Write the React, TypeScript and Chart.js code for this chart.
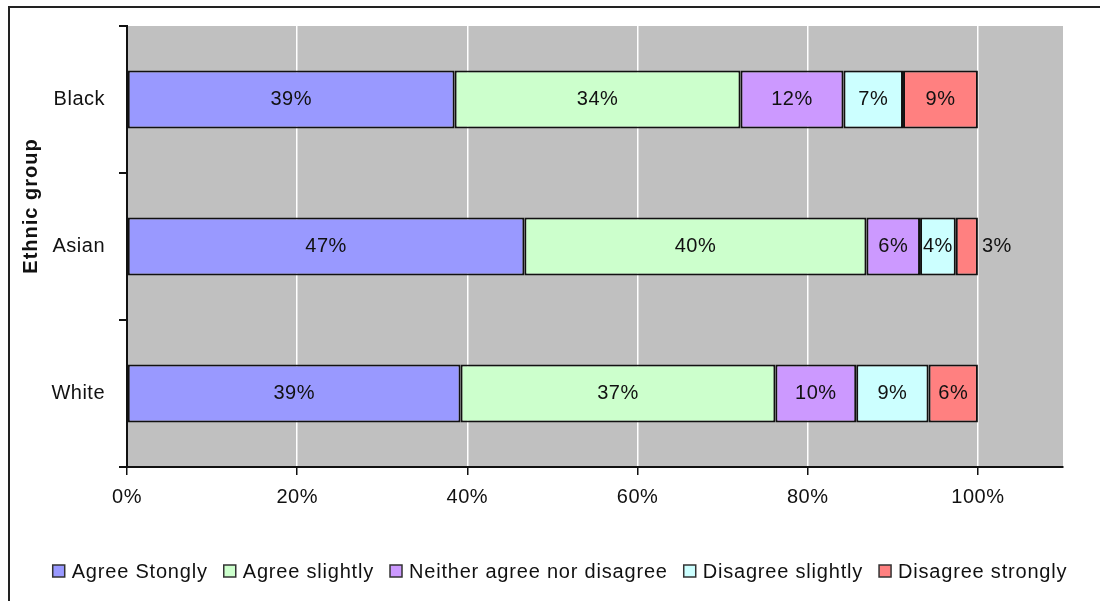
import { useEffect, useRef } from 'react';
import { Chart, registerables } from 'chart.js';

Chart.register(...registerables);

// Survey answers by ethnic group, in percent of respondents
const groups = ['Black', 'Asian', 'White'];
const seriesNames = [
  'Agree Stongly',
  'Agree slightly',
  'Neither agree nor disagree',
  'Disagree slightly',
  'Disagree strongly',
];
const agreeStrongly = [38.5, 46.7, 39.2];
const agreeSlightly = [33.6, 40.2, 37.0];
const neitherAgreeNorDisagree = [12.1, 6.3, 9.5];
const disagreeSlightly = [7.0, 4.2, 8.5];
const disagreeStrongly = [8.8, 2.6, 5.8];
const seriesColors = ['#9999FF', '#CCFFCC', '#CC99FF', '#CCFFFF', '#FF8080'];
const axisTitle = 'Ethnic group';

const FONT = "'Liberation Sans', Arial, sans-serif";
const INK = '#111111';

const seriesValues = [
  agreeStrongly,
  agreeSlightly,
  neitherAgreeNorDisagree,
  disagreeSlightly,
  disagreeStrongly,
];

// White page, outer frame and grey plot background
const framePlugin = {
  id: 'frame',
  beforeDraw(chart: any) {
    const { ctx, chartArea, width, height } = chart;
    ctx.save();
    ctx.fillStyle = '#ffffff';
    ctx.fillRect(0, 0, width, height);
    ctx.fillStyle = '#222222';
    ctx.fillRect(8, 6, width - 8, 2);
    ctx.fillRect(8, 6, 2, height - 6);
    ctx.fillStyle = '#C0C0C0';
    ctx.fillRect(chartArea.left, chartArea.top, chartArea.right - chartArea.left, chartArea.bottom - chartArea.top);
    ctx.restore();
    (ctx as any).letterSpacing = '0.5px';
  },
};

// Percent labels inside each bar segment (beside the bar when too narrow)
const valueLabelPlugin = {
  id: 'valueLabels',
  afterDatasetsDraw(chart: any) {
    const { ctx } = chart;
    ctx.save();
    ctx.font = `20px ${FONT}`;
    ctx.fillStyle = INK;
    ctx.textBaseline = 'middle';
    chart.data.datasets.forEach((ds: any, i: number) => {
      const meta = chart.getDatasetMeta(i);
      meta.data.forEach((el: any, j: number) => {
        const { x, y, base } = el.getProps(['x', 'y', 'base'], true);
        const text = Math.round(ds.data[j]) + '%';
        const w = ctx.measureText(text).width;
        const segW = Math.abs(x - base);
        if (w > segW - 2) {
          ctx.textAlign = 'left';
          ctx.fillText(text, Math.max(x, base) + 4, y);
        } else {
          ctx.textAlign = 'center';
          ctx.fillText(text, (x + base) / 2, y);
        }
      });
    });
    ctx.restore();
  },
};

// Rotated axis title and the legend row along the bottom
const decorPlugin = {
  id: 'decor',
  afterDraw(chart: any) {
    const { ctx } = chart;
    ctx.save();
    ctx.fillStyle = INK;
    ctx.translate(31, 206);
    ctx.rotate(-Math.PI / 2);
    ctx.font = `bold 20px ${FONT}`;
    (ctx as any).letterSpacing = '1px';
    ctx.textAlign = 'center';
    ctx.textBaseline = 'middle';
    ctx.fillText(axisTitle, 0, 0);
    ctx.restore();

    ctx.save();
    ctx.font = `20px ${FONT}`;
    (ctx as any).letterSpacing = '0.8px';
    ctx.textBaseline = 'middle';
    ctx.textAlign = 'left';
    const box = 12;
    const gapBox = 7;
    const gapItem = 16;
    const widths = seriesNames.map((n) => ctx.measureText(n).width);
    const total =
      widths.reduce((a, w) => a + box + gapBox + w, 0) + gapItem * (seriesNames.length - 1);
    let x = 560 - total / 2;
    const cy = 571;
    seriesNames.forEach((name, i) => {
      ctx.fillStyle = seriesColors[i];
      ctx.fillRect(x, cy - box / 2, box, box);
      ctx.strokeStyle = '#333333';
      ctx.lineWidth = 1.5;
      ctx.strokeRect(x, cy - box / 2, box, box);
      ctx.fillStyle = INK;
      ctx.fillText(name, x + box + gapBox, cy + 1);
      x += box + gapBox + widths[i] + gapItem;
    });
    ctx.restore();
  },
};

export default function App() {
  const canvasRef = useRef<HTMLCanvasElement>(null);

  useEffect(() => {
    const canvas = canvasRef.current;
    if (!canvas) return;
    const chart = new Chart(canvas, {
      type: 'bar',
      data: {
        labels: groups,
        datasets: seriesNames.map((name, i) => ({
          label: name,
          data: seriesValues[i],
          backgroundColor: seriesColors[i],
          borderColor: INK,
          borderWidth: 2,
          borderSkipped: false,
          categoryPercentage: 1,
          barPercentage: 0.394,
        })),
      },
      options: {
        indexAxis: 'y',
        responsive: false,
        animation: false,
        devicePixelRatio: 1,
        font: { family: FONT },
        layout: { padding: { left: 0, top: 25, right: 37, bottom: 0 } },
        plugins: {
          legend: { display: false },
          tooltip: { enabled: false },
        },
        scales: {
          x: {
            type: 'linear',
            stacked: true,
            min: 0,
            max: 110,
            ticks: {
              stepSize: 20,
              includeBounds: false,
              color: INK,
              font: { family: FONT, size: 20 },
              padding: 10,
              callback: (v: any) => v + '%',
            },
            grid: {
              color: (c: any) => (c.tick && c.tick.value === 0 ? 'rgba(0,0,0,0)' : '#ffffff'),
              lineWidth: 1.5,
              tickColor: INK,
              tickLength: 8,
            },
            border: { color: INK, width: 2 },
            afterFit: (s: any) => {
              s.height = 134;
            },
          },
          y: {
            type: 'category',
            stacked: true,
            grid: {
              drawOnChartArea: false,
              offset: true,
              tickColor: INK,
              tickLength: 8,
              lineWidth: 2,
            },
            border: { color: INK, width: 2 },
            ticks: {
              color: INK,
              font: { family: FONT, size: 20 },
              padding: 14,
            },
            afterFit: (s: any) => {
              s.width = 127;
            },
          },
        },
      },
      plugins: [framePlugin, valueLabelPlugin, decorPlugin],
    } as any);
    return () => chart.destroy();
  }, []);

  return (
    <div style={{ position: 'absolute', left: 0, top: 0, width: 1100, height: 601, background: '#fff' }}>
      <canvas ref={canvasRef} width={1100} height={601} style={{ display: 'block' }} />
    </div>
  );
}
